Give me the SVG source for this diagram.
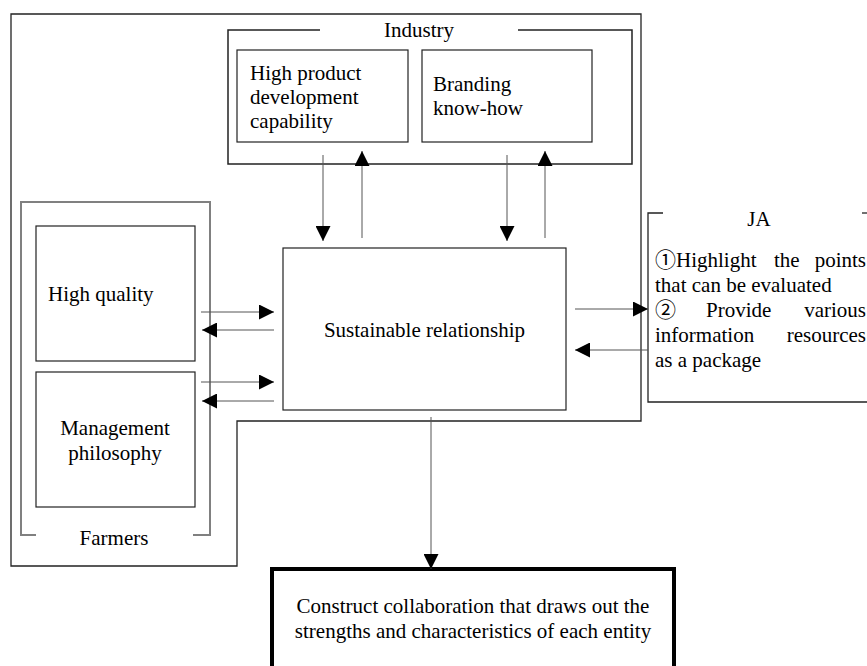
<svg xmlns="http://www.w3.org/2000/svg" width="867" height="666" viewBox="0 0 867 666">
<defs>
<style>
text{font-family:"Liberation Serif","Noto Sans CJK JP",serif;font-size:21px;fill:#000}
.frame{fill:none;stroke:#222;stroke-width:1.3}
.box{fill:#fff;stroke:#222;stroke-width:1.2}
.gray{fill:none;stroke:#808080;stroke-width:2}
.conn{stroke:#555;stroke-width:1;fill:none}
.mid{text-anchor:middle}
.end{text-anchor:end}
</style>
<marker id="ah" markerUnits="userSpaceOnUse" markerWidth="15" markerHeight="15" refX="15" refY="7.5" orient="auto">
<path d="M0,0 L15,7.5 L0,15 Z" fill="#000"/>
</marker>
</defs>
<rect width="867" height="666" fill="#fff"/>

<g id="outer">
<path class="frame" d="M11,14 H641 V421 H237 V566 H11 Z"/>
</g>

<g id="industry">
<path class="frame" style="stroke-width:1.5" d="M320,30 H228 V164 H632 V30 H518"/>
<text x="419" y="37" class="mid">Industry</text>
</g>

<g id="high-product">
<rect class="box" x="237" y="50" width="171" height="92"/>
<text x="250" y="80">High product</text>
<text x="250" y="104">development</text>
<text x="250" y="128">capability</text>
</g>

<g id="branding">
<rect class="box" x="422" y="50" width="170" height="92"/>
<text x="433" y="91">Branding</text>
<text x="433" y="115">know-how</text>
</g>

<g id="farmers">
<path class="gray" d="M36,535 H21 V202 H210 V535 H193"/>
<text x="114" y="545" class="mid">Farmers</text>
</g>

<g id="high-quality">
<rect class="box" x="36" y="226" width="159" height="135"/>
<text x="48" y="301">High quality</text>
</g>

<g id="management">
<rect class="box" x="36" y="372" width="159" height="135"/>
<text x="115" y="435" class="mid">Management</text>
<text x="115" y="460" class="mid">philosophy</text>
</g>

<g id="sustainable">
<rect class="box" x="283" y="248" width="283" height="162"/>
<text x="424.5" y="337" class="mid">Sustainable relationship</text>
</g>

<g id="ja">
<path class="frame" d="M663,213 H648 V402 H870"/>
<path class="frame" d="M862,213 H870"/>
<text x="759" y="226" class="mid">JA</text>
<text x="655" y="267">①Highlight</text>
<text x="774" y="267">the</text>
<text x="866" y="267" class="end">points</text>
<text x="655" y="292">that can be evaluated</text>
<text x="655" y="317">②</text>
<text x="706" y="317">Provide</text>
<text x="866" y="317" class="end">various</text>
<text x="655" y="342">information</text>
<text x="866" y="342" class="end">resources</text>
<text x="655" y="367">as a package</text>
</g>

<g id="result">
<rect x="272" y="569" width="402" height="120" fill="#fff" stroke="#000" stroke-width="4"/>
<text x="473" y="613" class="mid">Construct collaboration that draws out the</text>
<text x="473" y="638" class="mid">strengths and characteristics of each entity</text>
</g>

<g id="connectors">
<line class="conn" x1="323" y1="155" x2="323" y2="241" marker-end="url(#ah)"/>
<line class="conn" x1="362" y1="238" x2="362" y2="151" marker-end="url(#ah)"/>
<line class="conn" x1="507" y1="155" x2="507" y2="241" marker-end="url(#ah)"/>
<line class="conn" x1="545" y1="238" x2="545" y2="151" marker-end="url(#ah)"/>
<line class="conn" x1="201" y1="312" x2="274" y2="312" marker-end="url(#ah)"/>
<line class="conn" x1="274" y1="330" x2="202" y2="330" marker-end="url(#ah)"/>
<line class="conn" x1="201" y1="382" x2="274" y2="382" marker-end="url(#ah)"/>
<line class="conn" x1="274" y1="401" x2="202" y2="401" marker-end="url(#ah)"/>
<line class="conn" x1="575" y1="309" x2="648" y2="309" marker-end="url(#ah)"/>
<line class="conn" x1="648" y1="350" x2="575" y2="350" marker-end="url(#ah)"/>
<line class="conn" x1="431" y1="417" x2="431" y2="569" marker-end="url(#ah)"/>
</g>
</svg>
